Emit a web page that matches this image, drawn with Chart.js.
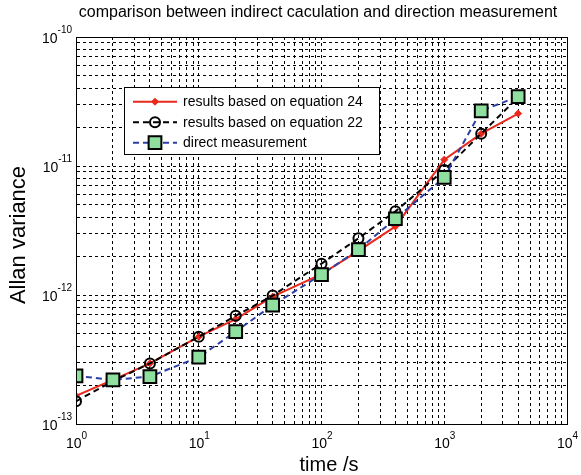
<!DOCTYPE html>
<html>
<head>
<meta charset="utf-8">
<script src="https://cdn.jsdelivr.net/npm/chart.js@4.4.1/dist/chart.umd.min.js"></script>
<style>
html,body{margin:0;padding:0;background:#fff;}
#wrap{width:581px;height:475px;position:relative;}
</style>
</head>
<body>
<div id="wrap"><canvas id="c" width="581" height="475"></canvas></div>
<script>
// ---- data ----
const tau = [1, 2, 4, 10, 20, 40, 100, 200, 400, 1000, 2000, 4000];
const eq24 = [1.65e-13, 2.2e-13, 2.95e-13, 4.75e-13, 6.5e-13, 9.7e-13, 1.45e-12, 2.2e-12, 3.4e-12, 1.12e-11, 1.78e-11, 2.55e-11];
const eq22 = [1.5e-13, 2.15e-13, 2.95e-13, 4.75e-13, 6.9e-13, 9.9e-13, 1.75e-12, 2.75e-12, 4.45e-12, 9.3e-12, 1.78e-11, 3.4e-11];
const direct = [2.36e-13, 2.2e-13, 2.33e-13, 3.3e-13, 5.2e-13, 8.35e-13, 1.44e-12, 2.25e-12, 3.9e-12, 8.15e-12, 2.68e-11, 3.45e-11];
const seriesNames = ['results based on equation 24', 'results based on equation 22', 'direct measurement'];
const xExponents = [0, 1, 2, 3, 4];
const yExponents = [-13, -12, -11, -10];
const titleText = 'comparison between indirect caculation and direction measurement';
const xTitle = 'time /s';
const yTitle = 'Allan variance';

const FONT = '"Liberation Sans", Arial, Helvetica, sans-serif';
const RED = '#e8291c', BLUE = '#2c3fa5', GREEN = '#8fdf9f';

function logTicks(exps) {
  const out = [];
  for (let i = 0; i < exps.length - 1; i++) {
    const d = Math.pow(10, exps[i]);
    for (let m = 1; m <= 9; m++) out.push(m * d);
  }
  out.push(Math.pow(10, exps[exps.length - 1]));
  return out;
}

const pts = arr => tau.map((t, i) => ({x: t, y: arr[i]}));

const datasets = [
  {label: seriesNames[0], data: pts(eq24), borderColor: RED, backgroundColor: RED, borderWidth: 2,
   pointStyle: 'rectRot', pointRadius: 3.5, pointBorderWidth: 1, pointBorderColor: RED, pointBackgroundColor: RED, order: 2},
  {label: seriesNames[1], data: pts(eq22), borderColor: '#000', backgroundColor: 'rgba(0,0,0,0)', borderWidth: 2, borderDash: [6, 4],
   pointStyle: 'circle', pointRadius: 5, pointBorderWidth: 2, pointBorderColor: '#000', pointBackgroundColor: 'rgba(0,0,0,0)', order: 1},
  {label: seriesNames[2], data: pts(direct), borderColor: BLUE, backgroundColor: GREEN, borderWidth: 2, borderDash: [6, 4],
   pointStyle: 'rect', pointRadius: 9, pointBorderWidth: 2, pointBorderColor: '#000', pointBackgroundColor: GREEN, order: 0}
];

const decor = {
  id: 'decor',
  afterDraw(chart) {
    const ctx = chart.ctx;
    const a = chart.chartArea;
    const xs = chart.scales.x, ys = chart.scales.y;
    ctx.save();
    // box
    ctx.strokeStyle = '#000';
    ctx.lineWidth = 1;
    ctx.setLineDash([]);
    ctx.strokeRect(Math.round(a.left) + 0.5, Math.round(a.top) + 0.5, Math.round(a.right - a.left), Math.round(a.bottom - a.top));
    ctx.fillStyle = '#000';
    // title
    ctx.font = '16px ' + FONT;
    ctx.textAlign = 'center';
    ctx.textBaseline = 'alphabetic';
    ctx.fillText(titleText, 318, 17);
    // x title
    ctx.font = '20px ' + FONT;
    ctx.fillText(xTitle, 329, 471);
    // y title
    ctx.save();
    ctx.translate(25, 235);
    ctx.rotate(-Math.PI / 2);
    ctx.font = '22px ' + FONT;
    ctx.fillText(yTitle, 0, 0);
    ctx.restore();
    // y tick labels
    const baseFont = '14px ' + FONT, expFont = '10px ' + FONT;
    yExponents.forEach(e => {
      const py = ys.getPixelForValue(Math.pow(10, e));
      const es = String(e);
      ctx.font = expFont;
      const we = ctx.measureText(es).width;
      ctx.textAlign = 'left';
      ctx.fillText(es, 72 - we, py - 4.3);
      ctx.font = baseFont;
      const wb = ctx.measureText('10').width;
      ctx.fillText('10', 72 - we - wb, py + 5.7);
    });
    // x tick labels
    xExponents.forEach(e => {
      const px = xs.getPixelForValue(Math.pow(10, e));
      const es = String(e);
      ctx.font = baseFont;
      const wb = ctx.measureText('10').width;
      ctx.font = expFont;
      const we = ctx.measureText(es).width;
      const x0 = px - (wb + we) / 2 + 0.5;
      ctx.textAlign = 'left';
      ctx.font = baseFont;
      ctx.fillText('10', x0, 448.3);
      ctx.font = expFont;
      ctx.fillText(es, x0 + wb, 438.5);
    });
    // legend
    const L = 124, T = 87, W = 255, H = 67;
    ctx.fillStyle = '#fff';
    ctx.fillRect(L, T, W, H);
    ctx.strokeStyle = '#000';
    ctx.lineWidth = 1;
    ctx.strokeRect(L + 0.5, T + 0.5, W, H);
    const rows = [101.7, 122.3, 142.7];
    datasets.forEach((ds, i) => {
      const y = rows[i];
      ctx.save();
      ctx.strokeStyle = ds.borderColor;
      ctx.lineWidth = 2;
      ctx.setLineDash(ds.borderDash || []);
      ctx.beginPath();
      ctx.moveTo(133, y);
      ctx.lineTo(177, y);
      ctx.stroke();
      ctx.setLineDash([]);
      ctx.fillStyle = ds.pointBackgroundColor;
      ctx.strokeStyle = ds.pointBorderColor;
      ctx.lineWidth = ds.pointBorderWidth;
      ctx.beginPath();
      if (ds.pointStyle === 'rect') {
        const s = ds.pointRadius * Math.SQRT1_2;
        ctx.rect(155 - s, y - s, 2 * s, 2 * s);
        ctx.fill(); ctx.stroke();
      } else if (ds.pointStyle === 'circle') {
        ctx.arc(155, y, ds.pointRadius, 0, Math.PI * 2);
        ctx.stroke();
      } else {
        const r = ds.pointRadius;
        ctx.moveTo(155, y - r); ctx.lineTo(155 + r, y); ctx.lineTo(155, y + r); ctx.lineTo(155 - r, y); ctx.closePath();
        ctx.fill(); ctx.stroke();
      }
      ctx.restore();
      ctx.fillStyle = '#000';
      ctx.font = '14px ' + FONT;
      ctx.textAlign = 'left';
      ctx.textBaseline = 'middle';
      ctx.fillText(ds.label, 183, y + 0.5);
      ctx.textBaseline = 'alphabetic';
    });
    ctx.restore();
  }
};

const gridOpts = {color: '#000', lineWidth: 1, drawTicks: false};
const borderOpts = {display: true, color: '#000', width: 1, dash: [3, 3]};

new Chart(document.getElementById('c'), {
  type: 'line',
  data: {datasets},
  options: {
    responsive: false,
    animation: false,
    devicePixelRatio: 1,
    layout: {padding: {left: 0, top: 37, right: 14, bottom: 0}},
    plugins: {legend: {display: false}, title: {display: false}, tooltip: {enabled: false}},
    scales: {
      x: {
        type: 'logarithmic', min: 1, max: 10000,
        ticks: {display: false, autoSkip: false},
        grid: gridOpts, border: borderOpts,
        afterBuildTicks: s => { s.ticks = logTicks(xExponents).map(v => ({value: v})); },
        afterFit: s => { s.height = 51; }
      },
      y: {
        type: 'logarithmic', min: 1e-13, max: 1e-10,
        ticks: {display: false, autoSkip: false},
        grid: gridOpts, border: borderOpts,
        afterBuildTicks: s => { s.ticks = logTicks(yExponents).map(v => ({value: v})); },
        afterFit: s => { s.width = 76; }
      }
    }
  },
  plugins: [decor]
});
</script>
</body>
</html>
